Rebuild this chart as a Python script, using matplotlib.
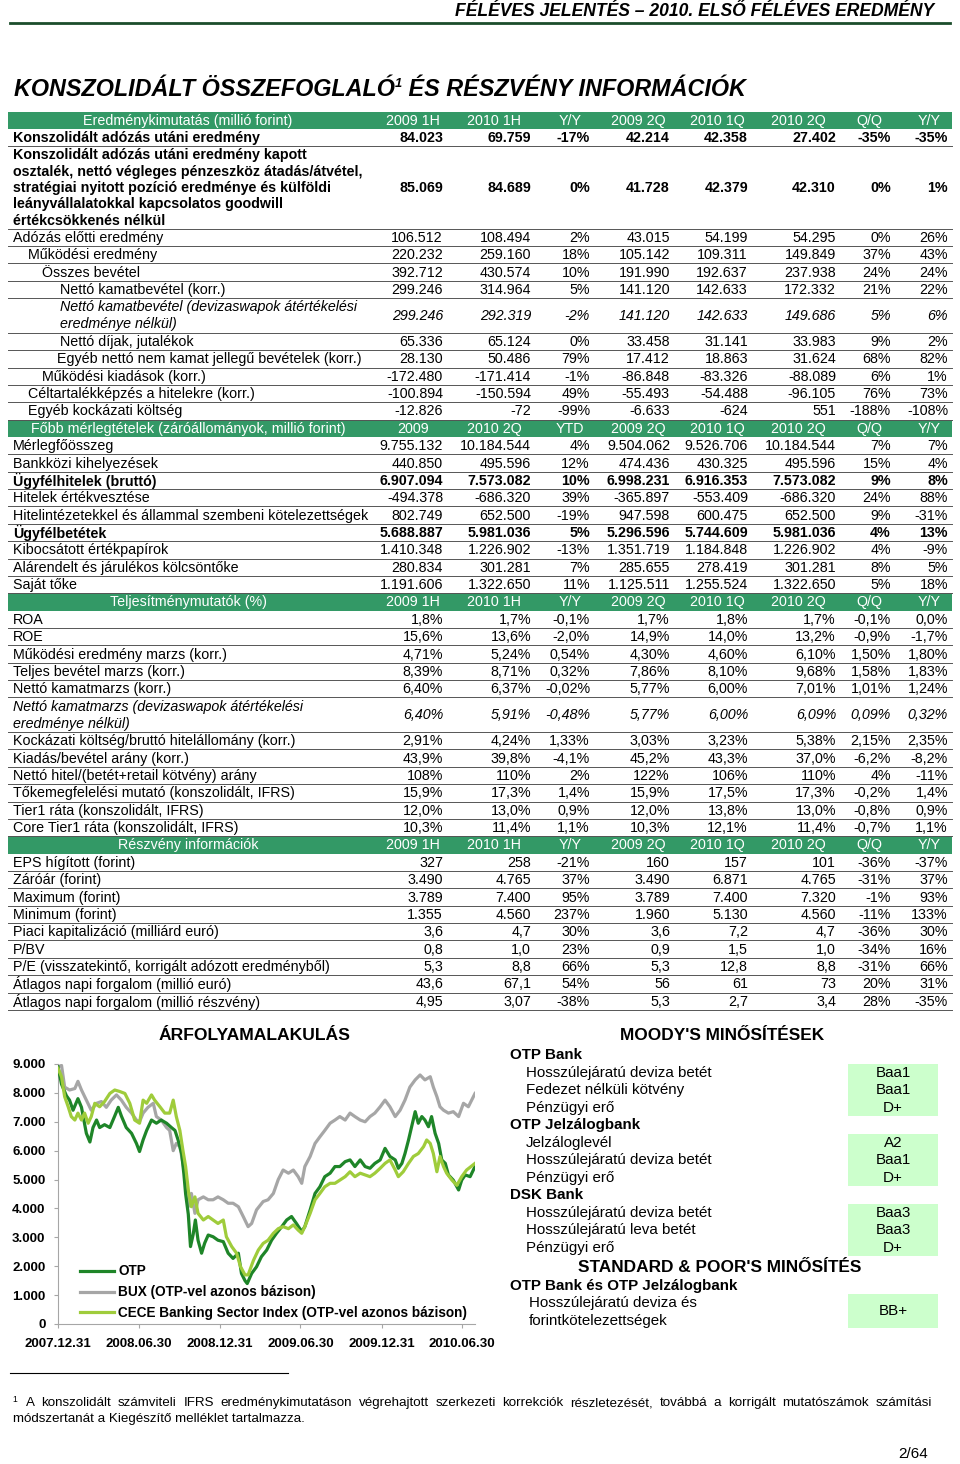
import pandas as pd
import matplotlib
matplotlib.use('Agg')
import matplotlib.pyplot as plt
from matplotlib.ticker import FuncFormatter
from matplotlib.patches import Rectangle

SANS = ['Liberation Sans', 'DejaVu Sans']
NARROW = ['Liberation Sans Narrow', 'Liberation Sans', 'DejaVu Sans']
plt.rcParams['font.family'] = SANS

# ---------------- table data ----------------
std_cols = ['2009 1H', '2010 1H', 'Y/Y', '2009 2Q', '2010 1Q', '2010 2Q', 'Q/Q', 'Y/Y']
bal_cols = ['2009', '2010 2Q', 'YTD', '2009 2Q', '2010 1Q', '2010 2Q', 'Q/Q', 'Y/Y']

inc_title = 'Eredménykimutatás (millió forint)'
inc_labels = [
    'Konszolidált adózás utáni eredmény',
    'Konszolidált adózás utáni eredmény kapott\nosztalék, nettó végleges pénzeszköz átadás/átvétel,\n'
    'stratégiai nyitott pozíció eredménye és külföldi\nleányvállalatokkal kapcsolatos goodwill\nértékcsökkenés nélkül',
    'Adózás előtti eredmény',
    'Működési eredmény',
    'Összes bevétel',
    'Nettó kamatbevétel (korr.)',
    'Nettó kamatbevétel (devizaswapok átértékelési\neredménye nélkül)',
    'Nettó díjak, jutalékok',
    'Egyéb nettó nem kamat jellegű bevételek (korr.)',
    'Működési kiadások (korr.)',
    'Céltartalékképzés a hitelekre (korr.)',
    'Egyéb kockázati költség',
]
inc_values = [
    ['84.023', '69.759', '-17%', '42.214', '42.358', '27.402', '-35%', '-35%'],
    ['85.069', '84.689', '0%', '41.728', '42.379', '42.310', '0%', '1%'],
    ['106.512', '108.494', '2%', '43.015', '54.199', '54.295', '0%', '26%'],
    ['220.232', '259.160', '18%', '105.142', '109.311', '149.849', '37%', '43%'],
    ['392.712', '430.574', '10%', '191.990', '192.637', '237.938', '24%', '24%'],
    ['299.246', '314.964', '5%', '141.120', '142.633', '172.332', '21%', '22%'],
    ['299.246', '292.319', '-2%', '141.120', '142.633', '149.686', '5%', '6%'],
    ['65.336', '65.124', '0%', '33.458', '31.141', '33.983', '9%', '2%'],
    ['28.130', '50.486', '79%', '17.412', '18.863', '31.624', '68%', '82%'],
    ['-172.480', '-171.414', '-1%', '-86.848', '-83.326', '-88.089', '6%', '1%'],
    ['-100.894', '-150.594', '49%', '-55.493', '-54.488', '-96.105', '76%', '73%'],
    ['-12.826', '-72', '-99%', '-6.633', '-624', '551', '-188%', '-108%'],
]
inc_style = ['b', 'b', '', '', '', '', 'i', '', '', '', '', '']
inc_indent = [0, 0, 0, 1, 2, 3, 3, 3, 2.5, 2, 1, 1]

bal_title = 'Főbb mérlegtételek (záróállományok, millió forint)'
bal_labels = [
    'Mérlegfőösszeg', 'Bankközi kihelyezések', 'Ügyfélhitelek (bruttó)', 'Hitelek értékvesztése',
    'Hitelintézetekkel és állammal szembeni kötelezettségek', 'Ügyfélbetétek',
    'Kibocsátott értékpapírok', 'Alárendelt és járulékos kölcsöntőke', 'Saját tőke',
]
bal_values = [
    ['9.755.132', '10.184.544', '4%', '9.504.062', '9.526.706', '10.184.544', '7%', '7%'],
    ['440.850', '495.596', '12%', '474.436', '430.325', '495.596', '15%', '4%'],
    ['6.907.094', '7.573.082', '10%', '6.998.231', '6.916.353', '7.573.082', '9%', '8%'],
    ['-494.378', '-686.320', '39%', '-365.897', '-553.409', '-686.320', '24%', '88%'],
    ['802.749', '652.500', '-19%', '947.598', '600.475', '652.500', '9%', '-31%'],
    ['5.688.887', '5.981.036', '5%', '5.296.596', '5.744.609', '5.981.036', '4%', '13%'],
    ['1.410.348', '1.226.902', '-13%', '1.351.719', '1.184.848', '1.226.902', '4%', '-9%'],
    ['280.834', '301.281', '7%', '285.655', '278.419', '301.281', '8%', '5%'],
    ['1.191.606', '1.322.650', '11%', '1.125.511', '1.255.524', '1.322.650', '5%', '18%'],
]
bal_style = ['', '', 'b', '', '', 'b', '', '', '']
bal_indent = [0] * 9

perf_title = 'Teljesítménymutatók (%)'
perf_labels = [
    'ROA', 'ROE', 'Működési eredmény marzs (korr.)', 'Teljes bevétel marzs (korr.)',
    'Nettó kamatmarzs (korr.)', 'Nettó kamatmarzs (devizaswapok átértékelési\neredménye nélkül)',
    'Kockázati költség/bruttó hitelállomány (korr.)', 'Kiadás/bevétel arány (korr.)',
    'Nettó hitel/(betét+retail kötvény) arány', 'Tőkemegfelelési mutató (konszolidált, IFRS)',
    'Tier1 ráta (konszolidált, IFRS)', 'Core Tier1 ráta (konszolidált, IFRS)',
]
perf_values = [
    ['1,8%', '1,7%', '-0,1%', '1,7%', '1,8%', '1,7%', '-0,1%', '0,0%'],
    ['15,6%', '13,6%', '-2,0%', '14,9%', '14,0%', '13,2%', '-0,9%', '-1,7%'],
    ['4,71%', '5,24%', '0,54%', '4,30%', '4,60%', '6,10%', '1,50%', '1,80%'],
    ['8,39%', '8,71%', '0,32%', '7,86%', '8,10%', '9,68%', '1,58%', '1,83%'],
    ['6,40%', '6,37%', '-0,02%', '5,77%', '6,00%', '7,01%', '1,01%', '1,24%'],
    ['6,40%', '5,91%', '-0,48%', '5,77%', '6,00%', '6,09%', '0,09%', '0,32%'],
    ['2,91%', '4,24%', '1,33%', '3,03%', '3,23%', '5,38%', '2,15%', '2,35%'],
    ['43,9%', '39,8%', '-4,1%', '45,2%', '43,3%', '37,0%', '-6,2%', '-8,2%'],
    ['108%', '110%', '2%', '122%', '106%', '110%', '4%', '-11%'],
    ['15,9%', '17,3%', '1,4%', '15,9%', '17,5%', '17,3%', '-0,2%', '1,4%'],
    ['12,0%', '13,0%', '0,9%', '12,0%', '13,8%', '13,0%', '-0,8%', '0,9%'],
    ['10,3%', '11,4%', '1,1%', '10,3%', '12,1%', '11,4%', '-0,7%', '1,1%'],
]
perf_style = ['', '', '', '', '', 'i', '', '', '', '', '', '']
perf_indent = [0] * 12

share_title = 'Részvény információk'
share_labels = [
    'EPS hígított (forint)', 'Záróár (forint)', 'Maximum (forint)', 'Minimum (forint)',
    'Piaci kapitalizáció (milliárd euró)', 'P/BV',
    'P/E (visszatekintő, korrigált adózott eredményből)',
    'Átlagos napi forgalom (millió euró)', 'Átlagos napi forgalom (millió részvény)',
]
share_values = [
    ['327', '258', '-21%', '160', '157', '101', '-36%', '-37%'],
    ['3.490', '4.765', '37%', '3.490', '6.871', '4.765', '-31%', '37%'],
    ['3.789', '7.400', '95%', '3.789', '7.400', '7.320', '-1%', '93%'],
    ['1.355', '4.560', '237%', '1.960', '5.130', '4.560', '-11%', '133%'],
    ['3,6', '4,7', '30%', '3,6', '7,2', '4,7', '-36%', '30%'],
    ['0,8', '1,0', '23%', '0,9', '1,5', '1,0', '-34%', '16%'],
    ['5,3', '8,8', '66%', '5,3', '12,8', '8,8', '-31%', '66%'],
    ['43,6', '67,1', '54%', '56', '61', '73', '20%', '31%'],
    ['4,95', '3,07', '-38%', '5,3', '2,7', '3,4', '28%', '-35%'],
]
share_style = [''] * 9
share_indent = [0] * 9

# ---------------- share price chart data (days after 2007.12.31) ----------------
otp_days = [0, 8, 19, 26, 34, 45, 53, 64, 72, 79, 87, 94, 105, 117, 128, 136, 143, 154, 166, 177,
            184, 192, 200, 211, 222, 233, 245, 256, 264, 271, 279, 284, 288, 294, 299, 305, 310, 316, 324, 331,
            339, 350, 361, 373, 384, 395, 407, 414, 422, 427, 437, 448, 459, 471, 482, 493, 505, 516, 527, 538,
            550, 557, 569, 580, 591, 602, 614, 625, 636, 648, 659, 670, 682, 693, 704, 715, 727, 738, 749, 761,
            768, 776, 783, 791, 798, 806, 813, 821, 828, 836, 843, 851, 859, 866, 874, 881, 892, 904, 911, 919,
            930, 941]
otp_vals = [8900, 8300, 7900, 7750, 7400, 7800, 7500, 6600, 6300, 6800, 7060, 6800, 6900, 6800, 7200, 7500, 7200, 6800, 6600, 6250,
            5970, 6370, 6700, 7060, 6950, 7060, 6950, 6800, 6700, 6370, 5900, 5200, 4500, 3800, 2680, 3100, 3600, 2900, 2450, 2800,
            3080, 3020, 2900, 2850, 2450, 2270, 2450, 1750, 1500, 1400, 1750, 1980, 2330, 2560, 2900, 3140, 3370, 3600, 3720, 3480,
            3200, 3370, 3950, 4520, 4750, 5100, 5220, 5450, 5450, 5620, 5680, 5450, 5680, 5450, 5390, 5560, 5680, 6080, 5800, 5680,
            5390, 5560, 5900, 6370, 6830, 7350, 6950, 7180, 7060, 6830, 7180, 6600, 6250, 5680, 5560, 5160, 4980, 4640, 4980, 5160,
            5100, 5450]
bux_days = [0, 8, 15, 26, 38, 45, 53, 64, 75, 87, 98, 109, 120, 132, 143, 154, 166, 177, 184, 192,
            203, 215, 222, 233, 245, 252, 260, 267, 275, 282, 288, 294, 301, 309, 316, 328, 339, 350, 361, 373,
            384, 395, 407, 418, 429, 437, 448, 463, 474, 486, 497, 508, 520, 531, 542, 550, 557, 569, 580, 591,
            602, 614, 625, 636, 648, 659, 670, 682, 693, 704, 715, 727, 738, 749, 761, 772, 783, 794, 806, 817,
            828, 840, 847, 855, 862, 870, 881, 892, 904, 915, 926, 941]
bux_vals = [8900, 8950, 8200, 8100, 8150, 8400, 8100, 7750, 7400, 7640, 7700, 7500, 7750, 7930, 7750, 7500, 7300, 7060, 7000, 7300,
            7500, 7640, 7180, 7060, 6800, 6700, 6000, 6250, 6140, 5560, 5000, 4060, 4520, 3830, 4300, 4400, 4300, 4300, 4400, 4300,
            4180, 4180, 4060, 3720, 3370, 3480, 3950, 4240, 4300, 4520, 5000, 5330, 5220, 5330, 5100, 4870, 5450, 5800, 6250, 6480,
            6700, 6950, 7060, 7180, 7060, 7300, 7180, 7060, 7000, 7180, 7300, 7520, 7750, 7520, 7180, 7400, 7750, 8200, 8450, 8620,
            8450, 8560, 8200, 7870, 7520, 7400, 7300, 7350, 7180, 7640, 7520, 7980]
cece_days = [0, 8, 15, 23, 30, 38, 45, 53, 60, 68, 75, 83, 94, 105, 117, 128, 139, 151, 162, 173,
             184, 192, 200, 211, 218, 230, 241, 252, 260, 267, 275, 282, 288, 295, 301, 309, 316, 328, 339, 350,
             361, 373, 380, 392, 403, 412, 422, 429, 441, 452, 463, 474, 486, 497, 508, 520, 531, 542, 550, 557,
             569, 580, 591, 602, 614, 625, 636, 648, 659, 670, 682, 693, 704, 715, 727, 738, 749, 761, 768, 779,
             791, 802, 813, 825, 832, 840, 847, 855, 862, 870, 877, 889, 900, 911, 922, 941]
cece_vals = [8850, 8560, 7870, 7520, 7180, 7060, 7300, 7060, 7300, 6950, 7180, 7640, 7520, 7700, 7980, 8100, 8050, 7980, 7640, 7060,
             6950, 7750, 7640, 7930, 7750, 7520, 7300, 7300, 7750, 7180, 6700, 6000, 5450, 4520, 4060, 4400, 3830, 3600, 3720, 3600,
             3480, 3600, 3020, 2680, 2450, 1980, 1700, 1700, 2200, 2560, 2790, 2900, 3140, 3300, 3370, 3300, 3430, 3250, 3140, 3370,
             3830, 4300, 4520, 4750, 4870, 4870, 4980, 5100, 5270, 5100, 5220, 5160, 5100, 5220, 5390, 5560, 5680, 5330, 5100, 5270,
             5560, 5800, 5900, 6140, 6370, 6250, 5900, 5270, 5800, 5450, 5220, 4980, 4800, 5100, 5330, 5560]
series_names = ['OTP', 'BUX (OTP-vel azonos bázison)', 'CECE Banking Sector Index (OTP-vel azonos bázison)']
date_ticks = ['2007.12.31', '2008.06.30', '2008.12.31', '2009.06.30', '2009.12.31', '2010.06.30']

# ---------------- ratings ----------------
moody_groups = ['OTP Bank', 'OTP Jelzálogbank', 'DSK Bank']
moody_items = [['Hosszúlejáratú deviza betét', 'Fedezet nélküli kötvény', 'Pénzügyi erő'],
               ['Jelzáloglevél', 'Hosszúlejáratú deviza betét', 'Pénzügyi erő'],
               ['Hosszúlejáratú deviza betét', 'Hosszúlejáratú leva betét', 'Pénzügyi erő']]
moody_ratings = [['Baa1', 'Baa1', 'D+'], ['A2', 'Baa1', 'D+'], ['Baa3', 'Baa3', 'D+']]
sp_group = 'OTP Bank és OTP Jelzálogbank'
sp_item = ['Hosszúlejáratú deviza és', 'forintkötelezettségek']
sp_rating = 'BB+'

footnote = ('A konszolidált számviteli IFRS eredménykimutatáson végrehajtott szerkezeti korrekciók részletezését, '
            'továbbá a korrigált mutatószámok számítási')
footnote2 = 'módszertanát a Kiegészítő melléklet tartalmazza.'

GREEN = '#339966'
OTP_C, BUX_C, CECE_C = '#1e8528', '#a6a6a6', '#9fcc3b'

fig = plt.figure(figsize=(9.6, 14.64), dpi=100)
page = fig.add_axes([0, 0, 1, 1])
page.set_xlim(0, 960)
page.set_ylim(1464, 0)
page.axis('off')
renderer = fig.canvas.get_renderer()


def width_of(s, **kw):
    t = page.text(0, 0, s, **kw)
    w = t.get_window_extent(renderer).width
    t.remove()
    return w


def fit(s, target, base=10, **kw):
    return base * target / width_of(s, fontsize=base, **kw)


# page header
hdr = 'FÉLÉVES JELENTÉS – 2010. ELSŐ FÉLÉVES EREDMÉNY'
hs = fit(hdr, 481, family=NARROW, weight='bold', style='italic')
page.text(934, 12, hdr, ha='right', va='center', fontsize=hs, family=NARROW, weight='bold', style='italic')
page.plot([10, 950], [22.5, 22.5], color='#1b4d2b', lw=2)

# title with footnote mark
t1, t2 = 'KONSZOLIDÁLT ÖSSZEFOGLALÓ', ' ÉS RÉSZVÉNY INFORMÁCIÓK'
tkw = dict(family=NARROW, weight='bold', style='italic')
w_all = width_of(t1, fontsize=18, **tkw) + width_of(t2, fontsize=18, **tkw) + width_of('1', fontsize=10, **tkw)
ts = 18 * 731 / w_all
x = 14
page.text(x, 90, t1, va='center', fontsize=ts, **tkw)
x += width_of(t1, fontsize=ts, **tkw)
page.text(x, 84, '1', va='center', fontsize=ts * 0.55, **tkw)
x += width_of('1', fontsize=ts * 0.55, **tkw)
page.text(x, 90, t2, va='center', fontsize=ts, **tkw)

# table
fs = fit('Hitelintézetekkel és állammal szembeni kötelezettségek', 352)
col_right = [443, 531, 590, 670, 748, 836, 891, 948]
col_center = [413, 494, 570, 638, 717, 798, 869, 929]
indent_x = {0: 13, 1: 28, 2: 42, 2.5: 57, 3: 60}
U = 17.36
sections = [
    (inc_title, std_cols, inc_labels, inc_values, inc_style, inc_indent),
    (bal_title, bal_cols, bal_labels, bal_values, bal_style, bal_indent),
    (perf_title, std_cols, perf_labels, perf_values, perf_style, perf_indent),
    (share_title, std_cols, share_labels, share_values, share_style, share_indent),
]
y = 111.5
for title, cols, labels, values, styles, indents in sections:
    page.add_patch(Rectangle((8, y), 944, U, facecolor=GREEN, lw=0))
    page.text(188, y + U / 2 + 0.5, title, color='white', ha='center', va='center', fontsize=fs)
    for cx, c in zip(col_center, cols):
        page.text(cx, y + U / 2 + 0.5, c, color='white', ha='center', va='center', fontsize=fs)
    y += U
    for lab, vals, st, ind in zip(labels, values, styles, indents):
        kw = dict(fontsize=fs, weight='bold' if st == 'b' else 'normal',
                  style='italic' if st == 'i' else 'normal')
        lines = lab.split('\n')
        n = len(lines)
        h = {1: 1, 2: 2}.get(n, 4.75) * U
        cy = y + h / 2 + 0.5
        step = 16.4 if n > 2 else 17
        for k, ln in enumerate(lines):
            page.text(indent_x[ind], cy + (k - (n - 1) / 2) * step, ln, va='center', **kw)
        for rx, v in zip(col_right, vals):
            page.text(rx, cy, v, ha='right', va='center', **kw)
        y += h
        page.plot([8, 952], [y, y], color='#555555', lw=0.7)

# share price chart
page.text(255, 1036, 'ÁRFOLYAMALAKULÁS', ha='center', va='center', fontsize=12.6, weight='bold')
ax = fig.add_axes([58 / 960, 140 / 1464, 417 / 960, 260 / 1464])
base = pd.Timestamp('2007-12-31')
l_bux, = ax.plot(base + pd.to_timedelta(bux_days, unit='D'), bux_vals, color=BUX_C, lw=2.3, zorder=2)
l_otp, = ax.plot(base + pd.to_timedelta(otp_days, unit='D'), otp_vals, color=OTP_C, lw=2.3, zorder=3)
l_cece, = ax.plot(base + pd.to_timedelta(cece_days, unit='D'), cece_vals, color=CECE_C, lw=2.3, zorder=4)
ax.set_xlim(base, base + pd.Timedelta(days=max(otp_days)))
ax.set_ylim(0, 9000)
ax.set_yticks(range(0, 9001, 1000))
ax.yaxis.set_major_formatter(FuncFormatter(lambda v, p: f'{int(v):,}'.replace(',', '.')))
ax.set_xticks(pd.to_datetime(date_ticks, format='%Y.%m.%d'))
ax.set_xticklabels(date_ticks)
for s in ['top', 'right']:
    ax.spines[s].set_visible(False)
for s in ['left', 'bottom']:
    ax.spines[s].set_color('#a6a6a6')
ax.tick_params(colors='#a6a6a6', labelcolor='black', labelsize=9.5, length=3)
ax.tick_params(axis='y', pad=6)
ax.tick_params(axis='x', pad=7)
for lb in ax.get_xticklabels() + ax.get_yticklabels():
    lb.set_fontweight('bold')
ax.set_facecolor('none')
ax.legend([l_otp, l_bux, l_cece], series_names, loc='lower left', bbox_to_anchor=(0.053, 0.015),
          frameon=False, handlelength=2.5, handletextpad=0.3, labelspacing=0.5, borderpad=0,
          borderaxespad=0, prop={'weight': 'bold', 'size': 9.8})

# ratings
rs = 10.9
page.text(722, 1036, "MOODY'S MINŐSÍTÉSEK", ha='center', va='center', fontsize=12.4, weight='bold')
P = 17.55
ry = 1055
for grp, items, rats in zip(moody_groups, moody_items, moody_ratings):
    page.text(510, ry, grp, va='center', fontsize=rs, weight='bold')
    page.add_patch(Rectangle((848, ry + P - 9), 90, 3 * P - 0.6, facecolor='#ccffcc', lw=0))
    for it, r in zip(items, rats):
        ry += P
        page.text(526, ry, it, va='center', fontsize=rs)
        page.text(893, ry, r, ha='center', va='center', fontsize=rs)
    ry += P
page.text(720, 1267, "STANDARD & POOR'S MINŐSÍTÉS", ha='center', va='center', fontsize=12.4, weight='bold')
page.text(510, 1286, sp_group, va='center', fontsize=rs, weight='bold')
page.add_patch(Rectangle((848, 1294), 90, 34, facecolor='#ccffcc', lw=0))
page.text(529, 1303, sp_item[0], va='center', fontsize=rs)
page.text(529, 1321, sp_item[1], va='center', fontsize=rs)
page.text(893, 1311, sp_rating, ha='center', va='center', fontsize=rs)

# footnote
page.plot([10, 288], [1373, 1373], color='black', lw=0.8)
fn = fit(footnote2, 292, family=NARROW)
page.text(12, 1399, '1', va='center', fontsize=fn * 0.65, family=NARROW)
words = footnote.split()
ww = [width_of(w, fontsize=fn, family=NARROW) for w in words]
gap = (932 - 26 - sum(ww)) / (len(words) - 1)
x = 26
for w, wd in zip(words, ww):
    page.text(x, 1403, w, va='center', fontsize=fn, family=NARROW)
    x += wd + gap
page.text(13, 1419, footnote2, va='center', fontsize=fn, family=NARROW)
page.text(928, 1454, '2/64', ha='right', va='center', fontsize=11, family=NARROW)

fig.savefig('out.png', dpi=100)
